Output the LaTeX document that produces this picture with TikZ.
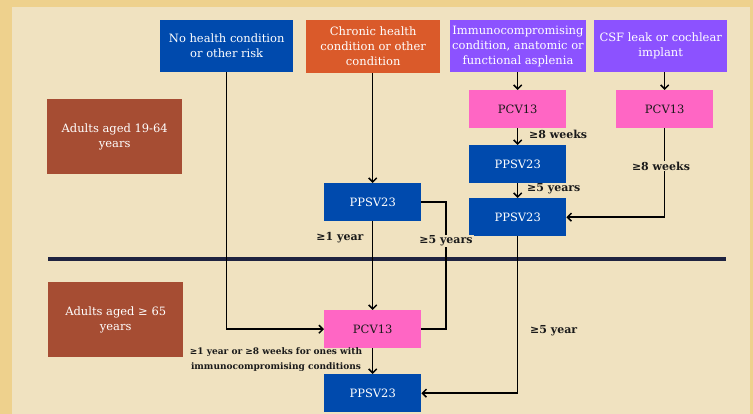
\documentclass[tikz,border=0pt]{standalone}
\usepackage{fontspec}
\setmainfont{DejaVu Serif}
\usetikzlibrary{arrows.meta}
\definecolor{bgout}{HTML}{EED18D}
\definecolor{bgin}{HTML}{F0E2C0}
\definecolor{cblue}{HTML}{004AAD}
\definecolor{corange}{HTML}{DA5A2A}
\definecolor{cpurple}{HTML}{8C52FF}
\definecolor{cpink}{HTML}{FF66C4}
\definecolor{cbrown}{HTML}{A64D33}
\definecolor{cnavy}{HTML}{1F2340}
\definecolor{ctext}{HTML}{1A1A1A}
\begin{document}
\begin{tikzpicture}[x=1pt,y=-1pt,
 box/.style={anchor=north west, inner sep=2pt, align=center, text=white, font=\fontsize{11.5}{15}\selectfont},
 pinkbox/.style={box, fill=cpink, text=ctext, minimum width=97pt, minimum height=38pt},
 bluebox/.style={box, fill=cblue, minimum width=97pt, minimum height=38pt},
 conn/.style={line width=1.5pt, black},
 arr/.style={conn, -{Straight Barb[length=4pt,width=8pt]}},
 lbl/.style={font=\bfseries\fontsize{11}{13}\selectfont, text=ctext, inner sep=1pt},
]
\useasboundingbox (0,0) rectangle (753,414);
\fill[bgout] (0,0) rectangle (753,414);
\fill[bgin] (12,7) rectangle (750,414);

% age boxes
\node[box, fill=cbrown, minimum width=135pt, minimum height=75pt] (age1) at (47,99) {Adults aged 19-64\\years};
\node[box, fill=cbrown, minimum width=135pt, minimum height=75pt] (age2) at (48,282) {Adults aged ≥ 65\\years};

% separator
\draw[cnavy, line width=4pt] (48,259) -- (726,259);

% top boxes
\node[box, fill=cblue, minimum width=133pt, minimum height=52pt] (nohealth) at (160,20) {No health condition\\or other risk};
\node[box, fill=corange, minimum width=134pt, minimum height=53pt] (chronic) at (306,20) {Chronic health\\condition or other\\condition};
\node[box, fill=cpurple, minimum width=134pt, minimum height=52pt] (immuno) at (450,20) {Immunocompromising\\condition, anatomic or\\functional asplenia};
\node[box, fill=cpurple, minimum width=133pt, minimum height=52pt] (csf) at (594,20) {CSF leak or cochlear\\implant};

% vaccine boxes
\node[pinkbox] (pcv1) at (469,90) {PCV13};
\node[pinkbox] (pcv2) at (616,90) {PCV13};
\node[bluebox] (ppsv1) at (469,145) {PPSV23};
\node[bluebox] (ppsv2) at (469,198) {PPSV23};
\node[bluebox] (ppsvc) at (324,183) {PPSV23};
\node[pinkbox] (pcvb) at (324,310) {PCV13};
\node[bluebox] (ppsvb) at (324,374) {PPSV23};

% connectors
\coordinate (c5) at (446,260);
\draw[arr] (nohealth.south) |- (pcvb.west);
\draw[arr] (chronic.south -| ppsvc.north) -- (ppsvc.north);
\draw[arr] (ppsvc.south) -- (pcvb.north);
\draw[conn] (ppsvc.east) -| (c5) |- (pcvb.east);
\draw[arr] (immuno.south -| pcv1.north) -- (pcv1.north);
\draw[arr] (csf.south -| pcv2.north) -- (pcv2.north);
\draw[arr] (pcv1.south) -- (ppsv1.north);
\draw[arr] (ppsv1.south) -- (ppsv2.north);
\draw[arr] (pcv2.south) |- (ppsv2.east);
\draw[arr] (ppsv2.south) |- (ppsvb.east);
\draw[arr] (pcvb.south) -- (ppsvb.north);

% labels
\node[lbl] (l1) at (340,238) {≥1 year};
\node[lbl, fill=bgin] (l2) at (446,241) {≥5 years};
\node[lbl, anchor=west] (l3) at (528,134) {≥8 weeks};
\node[lbl, anchor=west] (l4) at (526,189) {≥5 years};
\node[lbl, fill=bgin] (l5) at (661,166) {≥8 weeks};
\node[lbl, anchor=west] (l6) at (529,331) {≥5 year};
\node[lbl, align=center, font=\bfseries\fontsize{9}{15}\selectfont] (l7) at (276,360) {≥1 year or ≥8 weeks for ones with\\immunocompromising conditions};
\end{tikzpicture}
\end{document}
